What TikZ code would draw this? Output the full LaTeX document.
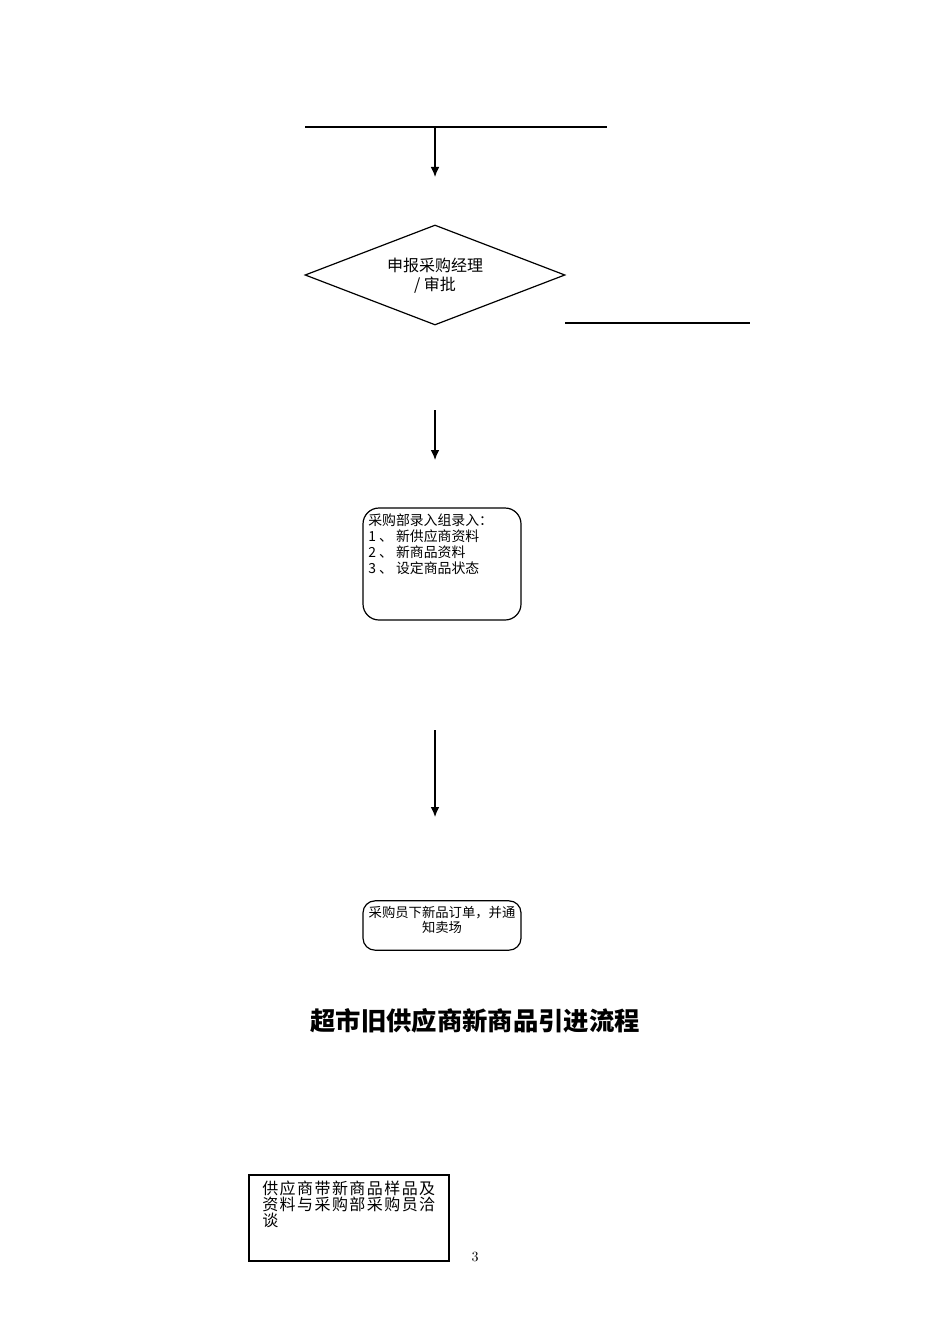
\documentclass[tikz,border=0pt]{standalone}
\usepackage{fontspec}
\usetikzlibrary{shapes.geometric,arrows.meta}
\newfontfamily\cjk{Noto Sans CJK SC}
\newfontfamily\cjkspaced[LetterSpace=9]{Noto Sans CJK SC}
\begin{document}
\begin{tikzpicture}[x=0.75pt,y=-0.75pt,
  line/.style={draw=black,line width=0.9pt},
  arr/.style={line,-{Latex[length=7.5pt,width=6.5pt]}},
  rbox/.style={draw=black,line width=0.9pt,rounded corners=12pt,inner sep=0pt},
  txt/.style={font=\cjk\fontsize{10.4pt}{11.9pt}\selectfont,inner sep=0pt}]
\useasboundingbox (0,0) rectangle (950,1344);
% top bar
\coordinate (t1) at (305,127);
\coordinate (t2) at (607,127);
\coordinate (tm) at (435,127);
\coordinate (ta) at (435,177);
\draw[line] (t1) -- (t2);
\draw[arr] (tm) -- (ta);
% diamond
\node[diamond,draw=black,line width=0.9pt,minimum width=195pt,minimum height=75pt,inner sep=0pt,aspect=2.6] (dia) at (435,275) {};
\node[align=center,font=\cjk\fontsize{12pt}{14.5pt}\selectfont,inner sep=0pt] (diat) at (435,276) {申报采购经理\\/ 审批};
\coordinate (r1) at (565,323);
\coordinate (r2) at (750,323);
\draw[line] (r1) -- (r2);
% second arrow
\coordinate (a1) at (435,410);
\coordinate (a2) at (435,460);
\draw[arr] (a1) -- (a2);
% rounded box 1
\node[rbox,minimum width=118.5pt,minimum height=84pt] (box1) at (442,564) {};
\node[txt,anchor=north west,align=left] (box1t) at (368,514) {采购部录入组录入：\\1 、 新供应商资料\\2 、 新商品资料\\3 、 设定商品状态};
% third arrow
\coordinate (b1) at (435,730);
\coordinate (b2) at (435,817);
\draw[arr] (b1) -- (b2);
% rounded box 2
\node[rbox,minimum width=118.5pt,minimum height=37pt,rounded corners=9pt] (box2) at (442,925.5) {};
\node[txt,align=center,font=\cjk\fontsize{10pt}{10.8pt}\selectfont] (box2t) at (442,920) {采购员下新品订单，并通\\知卖场};
% title
\node[inner sep=0pt,font=\cjk\bfseries\fontsize{19pt}{22pt}\selectfont] (title) at (475,1021) {超市旧供应商新商品引进流程};
% box 3
\node[draw=black,line width=0.9pt,minimum width=150pt,minimum height=64.5pt,inner sep=0pt] (box3) at (349,1218) {};
\node[anchor=north west,align=left,inner sep=0pt,font=\cjkspaced\fontsize{12pt}{12pt}\selectfont] (box3t) at (262,1181) {供应商带新商品样品及\\资料与采购部采购员洽\\谈};
% page number
\node[inner sep=0pt,font=\fontsize{10.5pt}{11pt}\selectfont] (pg) at (475,1257) {3};
\end{tikzpicture}
\end{document}
